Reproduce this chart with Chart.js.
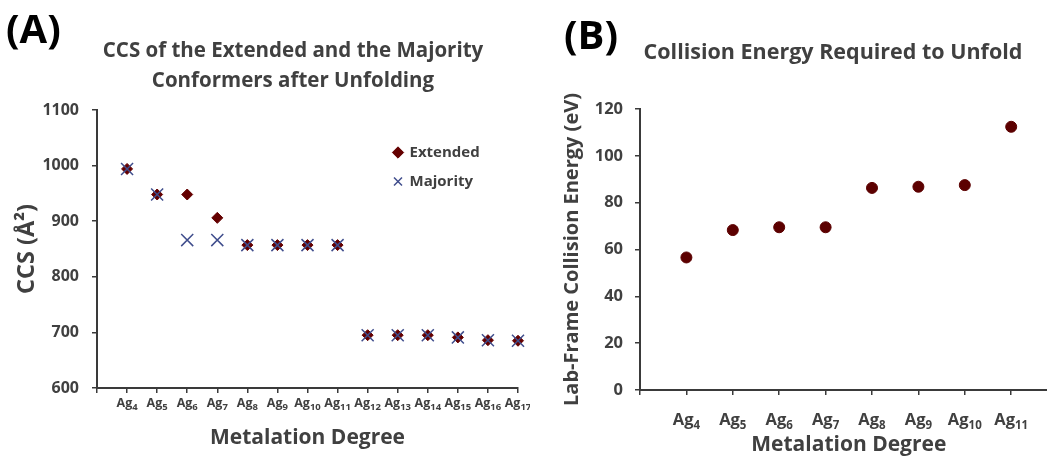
<!DOCTYPE html>
<html>
<head>
<meta charset="utf-8">
<script src="https://cdn.jsdelivr.net/npm/chart.js@4.4.1/dist/chart.umd.min.js"></script>
<style>
  html, body { margin: 0; padding: 0; background: #fff; overflow: hidden; width: 1047px; height: 458px; }
  canvas { position: absolute; top: 0; }
  #ccs { left: 0; }
  #energy { left: 530px; }
</style>
</head>
<body>
<canvas id="ccs" width="530" height="458"></canvas>
<canvas id="energy" width="540" height="458"></canvas>
<script>
// ---- data -------------------------------------------------------------
const ccsDegrees = ['Ag4', 'Ag5', 'Ag6', 'Ag7', 'Ag8', 'Ag9', 'Ag10', 'Ag11', 'Ag12', 'Ag13', 'Ag14', 'Ag15', 'Ag16', 'Ag17'];
const extendedCCS = [994, 948, 948, 906, 857, 857, 857, 857, 695, 695, 695, 691, 686, 685];
const majorityCCS = [994, 948, 866, 866, 857, 857, 857, 857, 695, 695, 695, 691, 686, 685];
const ccsRange = [600, 1100];
const ccsStep = 100;

const energyDegrees = ['Ag4', 'Ag5', 'Ag6', 'Ag7', 'Ag8', 'Ag9', 'Ag10', 'Ag11'];
const unfoldEnergy = [56.6, 68.3, 69.5, 69.5, 86.3, 86.8, 87.5, 112.4];
const energyRange = [0, 120];
const energyStep = 20;

// ---- styling ----------------------------------------------------------
const FONT = '"Open Sans", Lato, "DejaVu Sans", sans-serif';
const INK = '#404040';
const AXIS = '#3a3a3a';
const MAROON = '#640000';
const SLATE = '#3f4d8c';

function font(size, weight = 'bold') { return { family: FONT, size, weight }; }

// pin an axis box to a fixed thickness so the plot area lands where wanted
function fixBox(width, height) {
  return scale => {
    if (width != null) scale.width = width;
    if (height != null) scale.height = height;
    scale.paddingLeft = scale.paddingRight = scale.paddingTop = scale.paddingBottom = 0;
  };
}

// headings drawn on the canvas
const captions = {
  id: 'captions',
  afterDraw(chart, args, opts) {
    const ctx = chart.ctx;
    ctx.save();
    ctx.textBaseline = 'middle';
    (opts.items || []).forEach(it => {
      ctx.font = it.font;
      ctx.fillStyle = it.color;
      ctx.textAlign = it.align;
      ctx.fillText(it.text, it.x, it.y);
    });
    ctx.restore();
  }
};

// category labels such as "Ag10" written as element + subscript count
const subscriptTicks = {
  id: 'subscriptTicks',
  afterDraw(chart, args, opts) {
    const scale = chart.scales.x;
    const ctx = chart.ctx;
    const main = 'bold ' + opts.size + 'px ' + FONT;
    const sub = 'bold ' + opts.subSize + 'px ' + FONT;
    ctx.save();
    ctx.fillStyle = INK;
    ctx.textBaseline = 'alphabetic';
    ctx.textAlign = 'left';
    chart.data.labels.forEach((lab, i) => {
      const m = /^([A-Za-z]+)(\d+)$/.exec(lab);
      if (!m) return;
      ctx.font = main; const w1 = ctx.measureText(m[1]).width;
      ctx.font = sub;  const w2 = ctx.measureText(m[2]).width;
      const x0 = scale.getPixelForTick(i) - (w1 + w2) / 2;
      ctx.font = main; ctx.fillText(m[1], x0, opts.baseline);
      ctx.font = sub;  ctx.fillText(m[2], x0 + w1, opts.baseline + opts.drop);
    });
    ctx.restore();
  }
};

// move a chartArea legend to a chosen spot inside the plot
const legendSpot = {
  id: 'legendSpot',
  afterLayout(chart, args, opts) {
    const lg = chart.legend;
    if (!lg || !opts.at) return;
    const w = lg.width, h = lg.height;
    lg.left = opts.at.x; lg.top = opts.at.y;
    lg.right = lg.left + w; lg.bottom = lg.top + h;
  }
};

function axisCommon() {
  return {
    grid: { display: true, drawOnChartArea: false, drawTicks: true, tickLength: 5, color: AXIS, lineWidth: 1.5 },
    border: { display: true, color: AXIS, width: 2 }
  };
}

const toPoints = (labels, values) => labels.map((d, i) => ({ x: d, y: values[i] }));

// ---- (A) CCS chart ------------------------------------------------------
new Chart(document.getElementById('ccs'), {
  type: 'line',
  data: {
    labels: [''].concat(ccsDegrees),
    datasets: [
      {
        label: 'Extended',
        data: toPoints(ccsDegrees, extendedCCS),
        showLine: false,
        pointStyle: 'rectRot',
        pointRadius: 5.5,
        pointBackgroundColor: MAROON,
        pointBorderColor: MAROON,
        pointBorderWidth: 1,
        backgroundColor: MAROON,
        borderColor: MAROON,
        borderWidth: 1,
        clip: false,
        order: 1
      },
      {
        label: 'Majority',
        data: toPoints(ccsDegrees, majorityCCS),
        showLine: false,
        pointStyle: 'crossRot',
        pointRadius: 8.5,
        pointBorderColor: SLATE,
        pointBorderWidth: 1.5,
        backgroundColor: SLATE,
        borderColor: SLATE,
        borderWidth: 1.5,
        clip: false,
        order: 0
      }
    ]
  },
  options: {
    responsive: false,
    animation: false,
    events: [],
    layout: { padding: { top: 110, right: 12, bottom: 0, left: 0 } },
    scales: {
      x: Object.assign(axisCommon(), {
        type: 'category',
        offset: false,
        ticks: { display: false, autoSkip: false },
        title: { display: true, text: 'Metalation Degree', color: INK, font: font(21), padding: { top: 0, bottom: 7.4 } },
        afterFit: fixBox(null, 70)
      }),
      y: Object.assign(axisCommon(), {
        min: ccsRange[0],
        max: ccsRange[1],
        ticks: { stepSize: ccsStep, padding: 13, color: INK, font: font(16), format: { useGrouping: false } },
        title: { display: true, text: 'CCS (Å²)', color: INK, font: font(23.5), padding: { top: 13, bottom: 0 } },
        afterFit: fixBox(97, null)
      })
    },
    plugins: {
      tooltip: { enabled: false },
      legend: {
        display: true,
        position: 'chartArea',
        align: 'start',
        labels: {
          usePointStyle: true,
          boxWidth: 8,
          boxHeight: 8,
          padding: 14,
          color: INK,
          font: font(15),
          sort: (a, b) => a.datasetIndex - b.datasetIndex
        }
      },
      legendSpot: { at: { x: 380, y: 131 } },
      subscriptTicks: { size: 12.5, subSize: 9.5, baseline: 407, drop: 3 },
      captions: {
        items: [
          { text: '(A)', x: 6, y: 32, align: 'left', font: 'bold 40px ' + FONT, color: '#000' },
          { text: 'CCS of the Extended and the Majority', x: 293, y: 51, align: 'center', font: 'bold 20.5px ' + FONT, color: INK },
          { text: 'Conformers after Unfolding', x: 293, y: 81, align: 'center', font: 'bold 20.5px ' + FONT, color: INK }
        ]
      }
    }
  },
  plugins: [legendSpot, subscriptTicks, captions]
});

// ---- (B) collision energy chart ----------------------------------------
new Chart(document.getElementById('energy'), {
  type: 'line',
  data: {
    labels: [''].concat(energyDegrees, ['']),
    datasets: [
      {
        label: 'Collision Energy',
        data: toPoints(energyDegrees, unfoldEnergy),
        showLine: false,
        pointStyle: 'circle',
        pointRadius: 5.5,
        pointBackgroundColor: '#5c0000',
        pointBorderColor: '#5c0000',
        pointBorderWidth: 1,
        clip: false
      }
    ]
  },
  options: {
    responsive: false,
    animation: false,
    events: [],
    layout: { padding: { top: 109, right: 12.4, bottom: 0, left: 0 } },
    scales: {
      x: Object.assign(axisCommon(), {
        type: 'category',
        offset: false,
        ticks: { display: false, autoSkip: false },
        title: { display: true, text: 'Metalation Degree', color: INK, font: font(21), padding: { top: 0, bottom: 0.4 } },
        afterFit: fixBox(null, 68)
      }),
      y: Object.assign(axisCommon(), {
        min: energyRange[0],
        max: energyRange[1],
        ticks: { stepSize: energyStep, padding: 12, color: INK, font: font(16.5) },
        title: { display: true, text: 'Lab-Frame Collision Energy (eV)', color: INK, font: font(20), padding: { top: 30, bottom: 0 } },
        afterFit: fixBox(110, null)
      })
    },
    plugins: {
      tooltip: { enabled: false },
      legend: { display: false },
      subscriptTicks: { size: 16.5, subSize: 11.5, baseline: 425, drop: 4 },
      captions: {
        items: [
          { text: '(B)', x: 34, y: 38, align: 'left', font: 'bold 40px ' + FONT, color: '#000' },
          { text: 'Collision Energy Required to Unfold', x: 303, y: 53, align: 'center', font: 'bold 21.5px ' + FONT, color: INK }
        ]
      }
    }
  },
  plugins: [subscriptTicks, captions]
});
</script>
</body>
</html>
